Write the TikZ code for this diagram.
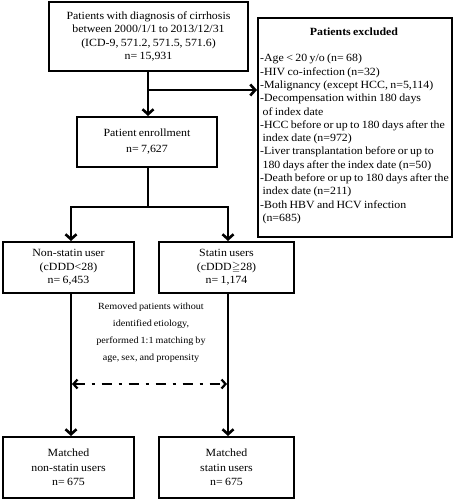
\documentclass[tikz,border=0pt]{standalone}
\usepackage{fontspec}
\usepackage{amssymb}
\setmainfont{Liberation Serif}[FakeStretch=1.08, WordSpace=0.8]
\usetikzlibrary{arrows.meta}
\begin{document}
\begin{tikzpicture}[x=1pt,y=-1pt,
  box/.style={draw, line width=2pt, inner sep=0pt, align=center,
    font=\fontsize{11}{13.5}\selectfont},
  arr/.style={line width=2.6pt, -{Straight Barb[length=5pt,width=11pt]}},
  plain/.style={line width=2.6pt},
  ddarr/.style={line width=2.2pt, dash pattern=on 10pt off 7pt on 3pt off 7pt,
    {Straight Barb[length=4pt,width=9pt]}-{Straight Barb[length=4pt,width=9pt]}},
  txt/.style={inner sep=0pt, font=\fontsize{11}{13.3}\selectfont}
]
\useasboundingbox (0,0) rectangle (454,500);
\node[box, minimum width=199pt, minimum height=69pt] (top) at (148.5,36.5)
  {Patients with diagnosis of cirrhosis\\between 2000/1/1 to 2013/12/31\\(ICD-9, 571.2, 571.5, 571.6)\\n= 15,931};
\node[box, minimum width=194pt, minimum height=219pt] (excl) at (355,127.5) {};
\node[txt, font=\fontsize{11}{13.3}\selectfont\bfseries] (exclt) at (354,32) {Patients excluded};
\node[txt, align=left, anchor=north west] (excll) at (260,54)
  {-Age < 20 y/o (n= 68)\\
   -HIV co-infection (n=32)\\
   -Malignancy (except HCC, n=5,114)\\
   -Decompensation within 180 days\\
   \ of index date\\
   -HCC before or up to 180 days after the\\
   \ index date (n=972)\\
   -Liver transplantation before or up to\\
   \ 180 days after the index date (n=50)\\
   -Death before or up to 180 days after the\\
   \ index date (n=211)\\
   -Both HBV and HCV infection\\
   \ (n=685)};
\node[box, minimum width=140pt, minimum height=50pt,
  font=\fontsize{11}{16}\selectfont] (enr) at (147,142)
  {Patient enrollment\\n= 7,627};
\node[box, minimum width=131pt, minimum height=51pt] (ns) at (68.5,267.5)
  {Non-statin user\\(cDDD<28)\\n= 6,453};
\node[box, minimum width=135pt, minimum height=51pt] (st) at (226.5,267.5)
  {Statin users\\(cDDD$\geqq$28)\\n= 1,174};
\node[box, minimum width=131pt, minimum height=61pt, font=\fontsize{11}{14.5}\selectfont] (mns) at (68.5,467.5)
  {Matched\\non-statin users\\n= 675};
\node[box, minimum width=135pt, minimum height=61pt, font=\fontsize{11}{14.5}\selectfont] (mst) at (226.5,467.5)
  {Matched\\statin users\\n= 675};
\node[inner sep=0pt, align=center, font=\fontsize{9.4}{17}\selectfont] (note) at (151,333)
  {Removed patients without\\identified etiology,\\performed 1:1 matching by\\age, sex, and propensity};
% connectors
\coordinate (j1) at (148,90);
\coordinate (j2) at (148,207);
\coordinate (jl) at (71,207);
\coordinate (jr) at (228,207);
\draw[arr] (top.south -| j1) -- (enr.north -| j1);
\draw[arr] (j1) -- (excl.west |- j1);
\draw[plain] (enr.south -| j2) -- (j2);
\draw[plain, line cap=rect] (jl) -- (jr);
\draw[arr] (jl) -- (ns.north -| jl);
\draw[arr] (jr) -- (st.north -| jr);
\draw[arr] (ns.south -| jl) -- (mns.north -| jl);
\draw[arr] (st.south -| jr) -- (mst.north -| jr);
\coordinate (dl) at (72,384);
\coordinate (dr) at (227,384);
\draw[ddarr] (dl) -- (dr);
\end{tikzpicture}
\end{document}
